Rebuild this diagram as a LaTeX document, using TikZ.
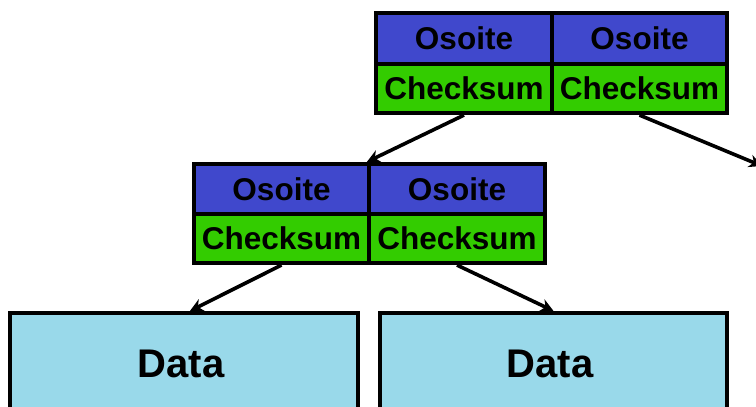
\documentclass[tikz,border=0pt]{standalone}
\usepackage{fontspec}
\setmainfont{Liberation Sans}
\usetikzlibrary{arrows.meta}
\definecolor{keyblue}{RGB}{64,72,204}
\definecolor{sumgreen}{RGB}{51,204,0}
\definecolor{datablue}{RGB}{153,217,234}
\tikzset{
  cell/.style={draw=black, line width=4.2pt, inner sep=0pt, anchor=center,
    font=\bfseries\fontsize{31.5}{34}\selectfont},
  keycell/.style={cell, fill=keyblue, minimum height=51pt},
  sumcell/.style={cell, fill=sumgreen, minimum height=49pt},
  datacell/.style={draw=black, line width=4.2pt, fill=datablue, inner sep=0pt},
  datatext/.style={font=\bfseries\fontsize{40}{44}\selectfont},
  link/.style={line width=3.6pt, -{Stealth[length=13pt,width=13pt]}}
}
\begin{document}
\begin{tikzpicture}[x=1pt,y=-1pt]
\clip (0,0) rectangle (756,407);
\fill[white] (0,0) rectangle (756,407);

% upper index block
\node[keycell, minimum width=176pt] (tk1) at (464,38.5) {Osoite};
\node[keycell, minimum width=175pt] (tk2) at (639.5,38.5) {Osoite};
\node[sumcell, minimum width=176pt] (ts1) at (464,88.5) {Checksum};
\node[sumcell, minimum width=175pt] (ts2) at (639.5,88.5) {Checksum};

% lower index block
\node[keycell, minimum width=175pt, minimum height=50pt] (mk1) at (281.5,189) {Osoite};
\node[keycell, minimum width=176pt, minimum height=50pt] (mk2) at (457,189) {Osoite};
\node[sumcell, minimum width=175pt] (ms1) at (281.5,238.5) {Checksum};
\node[sumcell, minimum width=176pt] (ms2) at (457,238.5) {Checksum};

% data blocks
\node[datacell, minimum width=348pt, minimum height=110pt] (d1) at (184,368) {};
\node[datacell, minimum width=347pt, minimum height=110pt] (d2) at (553.5,368) {};
\node[datatext] (t1) at (181,364) {Data};
\node[datatext] (t2) at (550,364) {Data};

\coordinate (off) at (762,166);

% pointers
\draw[link] (ts1.south) -- (mk2.north west);
\draw[link] (ts2.south) -- (off);
\draw[link] (ms1.south) -- (d1.north -| 190,0);
\draw[link] (ms2.south) -- (d2.north);
\end{tikzpicture}
\end{document}
